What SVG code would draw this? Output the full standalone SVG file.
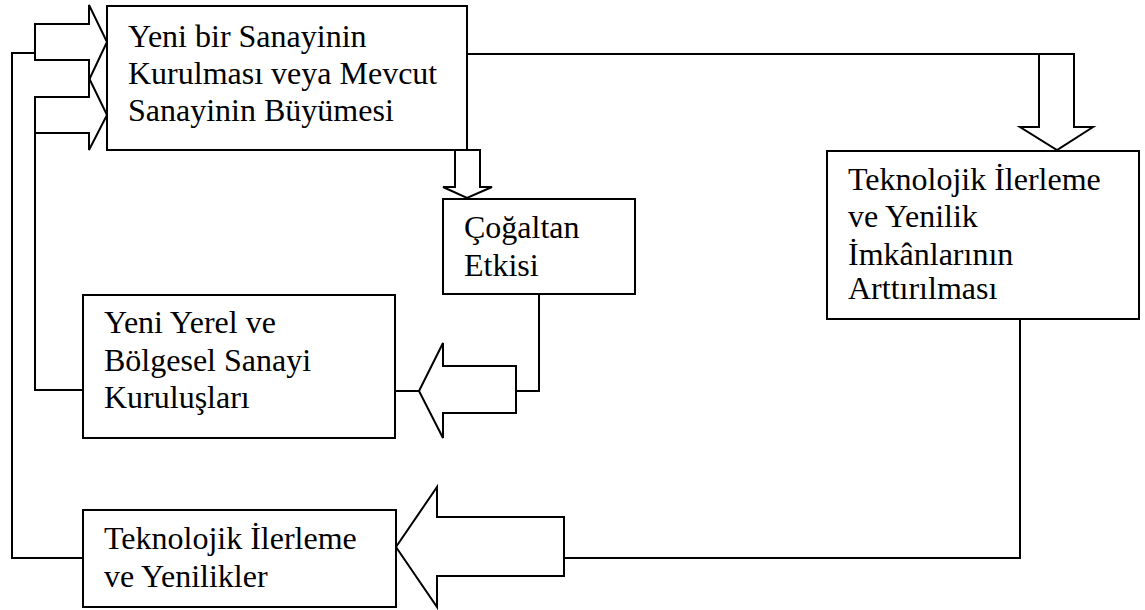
<svg xmlns="http://www.w3.org/2000/svg" width="1145" height="610" viewBox="0 0 1145 610">
<style>
.box{fill:#fff;stroke:#000;stroke-width:2}
.arr{fill:#fff;stroke:#000;stroke-width:2;stroke-linejoin:miter}
.ln{fill:none;stroke:#000;stroke-width:2}
.t{font-family:'Liberation Serif','DejaVu Serif',serif;font-size:32px;fill:#000}
</style>
<rect width="1145" height="610" fill="#fff"/>
<g id="connectors">
<polyline class="ln" points="467,54 1074,54"/>
<polyline class="ln" points="539,294 539,391 516,391"/>
<polyline class="ln" points="395,391 419,391"/>
<polyline class="ln" points="1020,319 1020,558 564,558"/>
<polyline class="ln" points="83,390 35,390 35,133"/>
<polyline class="ln" points="83,558 12,558 12,53 35,53"/>
<polygon class="arr" points="35,24 89,24 89,5 107,42 89,80 89,60 35,60"/>
<polygon class="arr" points="35,97 89,97 89,78 107,115 89,150 89,133 35,133"/>
<polygon class="arr" points="455,150 480,150 480,187 492,187 467,198 443,187 455,187"/>
<polygon class="arr" points="1039,54 1074,54 1074,127 1093,127 1057,150 1020,127 1039,127"/>
<polygon class="arr" points="516,366 443,366 443,343 419,391 443,438 443,413 516,413"/>
<polygon class="arr" points="564,517 437,517 437,487 396,547 437,607 437,576 564,576"/>
</g>
<g id="node-main">
<rect class="box" x="107" y="6" width="360" height="144"/>
<text class="t" font-family="Liberation Serif, serif" x="128" y="47">Yeni bir Sanayinin</text>
<text class="t" font-family="Liberation Serif, serif" x="128" y="84">Kurulması veya Mevcut</text>
<text class="t" font-family="Liberation Serif, serif" x="128" y="121">Sanayinin Büyümesi</text>
</g>
<g id="node-carpan">
<rect class="box" x="443" y="199" width="192" height="95"/>
<text class="t" x="464" y="238">Çoğaltan</text>
<text class="t" x="464" y="276">Etkisi</text>
</g>
<g id="node-yerel">
<rect class="box" x="83" y="295" width="312" height="143"/>
<text class="t" x="104" y="333">Yeni Yerel ve</text>
<text class="t" x="104" y="371">Bölgesel Sanayi</text>
<text class="t" x="104" y="408">Kuruluşları</text>
</g>
<g id="node-tekno">
<rect class="box" x="83" y="510" width="313" height="97"/>
<text class="t" x="104" y="549">Teknolojik İlerleme</text>
<text class="t" x="104" y="587">ve Yenilikler</text>
</g>
<g id="node-imkan">
<rect class="box" x="827" y="151" width="312" height="168"/>
<text class="t" x="848" y="190">Teknolojik İlerleme</text>
<text class="t" x="848" y="227">ve Yenilik</text>
<text class="t" x="848" y="265">İmkânlarının</text>
<text class="t" x="848" y="299">Arttırılması</text>
</g>
</svg>
